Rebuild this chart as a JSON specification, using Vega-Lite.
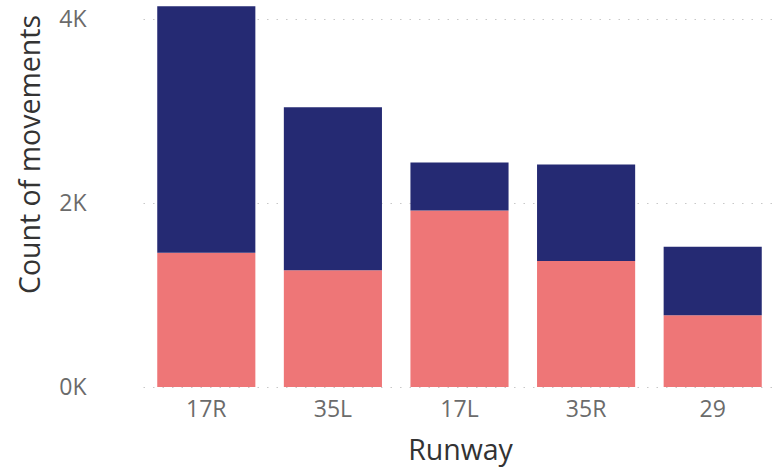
{
  "$schema": "https://vega.github.io/schema/vega-lite/v6.json",
  "autosize": "none",
  "padding": {"left": 105, "top": 0, "right": 1, "bottom": 83},
  "width": 671,
  "height": 387,
  "background": "white",
  "config": {
    "view": {"stroke": null},
    "font": "Open Sans"
  },
  "data": {
    "values": [
      {"runway": "17R", "type": "Arrival", "count": 1460, "ord": 1},
      {"runway": "17R", "type": "Departure", "count": 2680, "ord": 2},
      {"runway": "35L", "type": "Arrival", "count": 1270, "ord": 1},
      {"runway": "35L", "type": "Departure", "count": 1770, "ord": 2},
      {"runway": "17L", "type": "Arrival", "count": 1920, "ord": 1},
      {"runway": "17L", "type": "Departure", "count": 520, "ord": 2},
      {"runway": "35R", "type": "Arrival", "count": 1370, "ord": 1},
      {"runway": "35R", "type": "Departure", "count": 1050, "ord": 2},
      {"runway": "29", "type": "Arrival", "count": 780, "ord": 1},
      {"runway": "29", "type": "Departure", "count": 745, "ord": 2}
    ]
  },
  "mark": {"type": "bar"},
  "encoding": {
    "x": {
      "field": "runway",
      "type": "nominal",
      "sort": ["17R", "35L", "17L", "35R", "29"],
      "scale": {"range": [38, 671], "paddingInner": 0.225, "paddingOuter": 0.1125},
      "axis": {
        "title": "Runway",
        "titleFontSize": 28.5,
        "titleFontWeight": "normal",
        "titleColor": "#333333",
        "titleX": 355,
        "titlePadding": 15,
        "labelFontSize": 23,
        "labelColor": "#6b6b6b",
        "labelPadding": 11,
        "labelAngle": 0,
        "domain": false,
        "ticks": false
      }
    },
    "y": {
      "field": "count",
      "type": "quantitative",
      "stack": "zero",
      "scale": {"domain": [0, 4207], "nice": false},
      "axis": {
        "title": "Count of movements",
        "titleFontSize": 28.5,
        "titleFontWeight": "normal",
        "titleColor": "#333333",
        "titlePadding": 13,
        "titleY": 154,
        "values": [0, 2000, 4000],
        "labelExpr": "(datum.value/1000) + 'K'",
        "labelFontSize": 23,
        "labelColor": "#6b6b6b",
        "labelPadding": 19,
        "domain": false,
        "ticks": false,
        "grid": true,
        "gridColor": "#c8c8c8",
        "gridDash": [1.5, 8],
        "gridWidth": 1.2
      }
    },
    "color": {
      "field": "type",
      "type": "nominal",
      "scale": {"domain": ["Arrival", "Departure"], "range": ["#EE7677", "#252A73"]},
      "legend": null
    },
    "order": {"field": "ord", "type": "quantitative"}
  }
}
